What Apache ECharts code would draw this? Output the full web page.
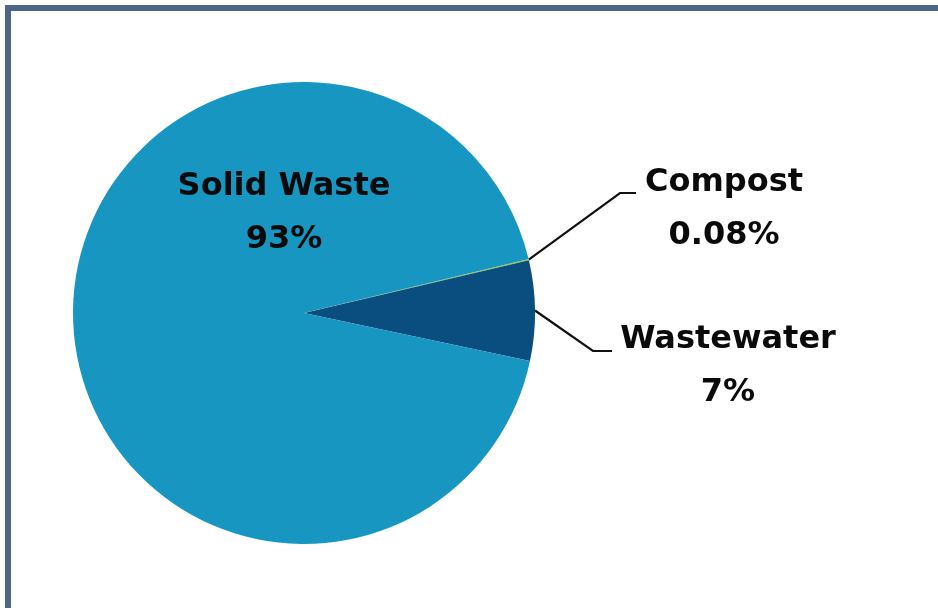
<!DOCTYPE html>
<html>
<head>
<meta charset="utf-8">
<script src="https://cdn.jsdelivr.net/npm/echarts@6/dist/echarts.min.js"></script>
<style>
  html, body { margin: 0; padding: 0; background: #ffffff; overflow: hidden; }
  #wrap { position: relative; width: 938px; height: 608px; overflow: hidden; background: #ffffff; }
  #frame {
    position: absolute; left: 5px; top: 5px; width: 960px; height: 640px;
    border: 6px solid #4a6787; box-sizing: border-box;
  }
  #chart { position: absolute; left: 0; top: 0; width: 938px; height: 608px; }
</style>
</head>
<body>
<div id="wrap">
  <div id="frame"></div>
  <div id="chart"></div>
</div>
<script>
// Waste stream shares (percent)
const categories = ['Compost', 'Wastewater', 'Solid Waste'];
const shares = [0.08, 7, 93];
const shareLabels = ['0.08%', '7%', '93%'];
const sliceColors = ['#9ccc3c', '#0a4e80', '#1896c2'];

// Where each two-line label block sits (centre of block) and how its leader line bends
const labelPlacement = {
  'Compost':     { x: 724, y: 209, elbow: [620, 193], end: [636, 193] },
  'Wastewater':  { x: 728, y: 366, elbow: [593, 351], end: [612, 351] },
  'Solid Waste': { x: 284, y: 213 }
};

const chart = echarts.init(document.getElementById('chart'), null, { renderer: 'canvas' });

const data = categories.map((name, i) => ({
  name: name,
  value: shares[i],
  itemStyle: { color: sliceColors[i] },
  label: { position: name === 'Solid Waste' ? 'inside' : 'outside' },
  labelLine: { show: name !== 'Solid Waste' }
}));

chart.setOption({
  animation: false,
  backgroundColor: 'transparent',
  series: [{
    type: 'pie',
    center: [304, 313],
    radius: 231,
    startAngle: 13.5,
    clockwise: true,
    avoidLabelOverlap: false,
    data: data,
    itemStyle: { borderWidth: 0 },
    label: {
      show: true,
      formatter: p => p.name + '\n' + shareLabels[p.dataIndex],
      fontFamily: 'DejaVu Sans',
      fontWeight: 'bold',
      fontSize: 32,
      lineHeight: 53,
      color: '#0a0a0a',
      align: 'center'
    },
    labelLine: {
      show: true,
      smooth: false,
      lineStyle: { color: '#111111', width: 2.2 }
    },
    labelLayout: function (params) {
      const name = categories[params.dataIndex];
      const place = labelPlacement[name];
      const out = { x: place.x, y: place.y, align: 'center', verticalAlign: 'middle' };
      if (place.elbow && params.labelLinePoints) {
        const start = params.labelLinePoints[0];
        out.labelLinePoints = [start, place.elbow, place.end];
      }
      return out;
    }
  }]
});
</script>
</body>
</html>
